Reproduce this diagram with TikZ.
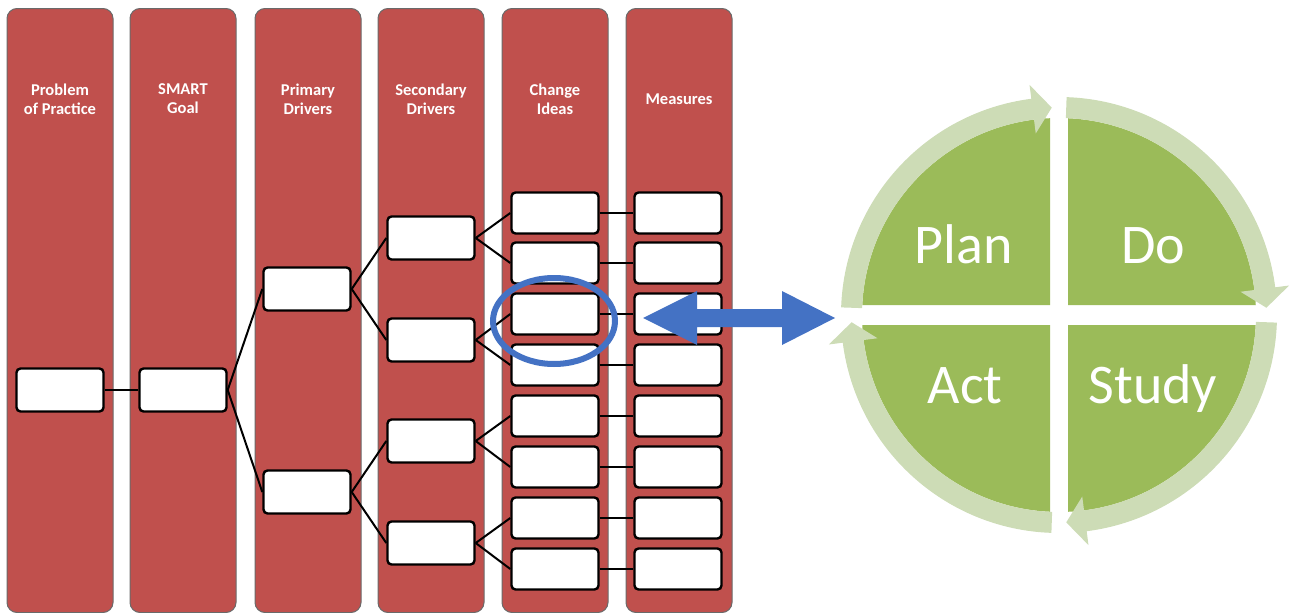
\documentclass[tikz,border=0pt]{standalone}
\usepackage{fontspec}
\setmainfont{Carlito}
\usetikzlibrary{shapes.geometric}
\definecolor{colred}{HTML}{C0504D}
\definecolor{colborder}{HTML}{6A6A6A}
\definecolor{pdcadark}{HTML}{9BBB59}
\definecolor{pdcalight}{HTML}{CDDCB6}
\definecolor{arrowblue}{HTML}{4472C4}
\begin{document}
\begin{tikzpicture}[x=1pt,y=1pt,
  column/.style={draw=colborder, line width=1pt, fill=colred, rounded corners=10pt,
    minimum width=106pt, minimum height=604pt, inner sep=0pt, anchor=north},
  hdr/.style={text=white, font=\bfseries\fontsize{16.5}{19}\selectfont, align=center},
  bigbox/.style={draw=black, line width=2.4pt, fill=white, rounded corners=4pt,
    minimum width=87pt, minimum height=43pt, inner sep=0pt},
  smallbox/.style={bigbox, minimum height=41pt},
  link/.style={draw=black, line width=2pt},
  pdcatext/.style={text=white, font=\fontsize{56}{60}\selectfont, anchor=base, inner sep=0pt}]
\useasboundingbox (0,0) rectangle (1294,-613);

% columns
\node[column] (c1) at (60,-8) {};
\node[column] (c2) at (183,-8) {};
\node[column] (c3) at (308,-8) {};
\node[column] (c4) at (431,-8) {};
\node[column] (c5) at (555,-8) {};
\node[column] (c6) at (679,-8) {};

% headers
\node[hdr] (h1) at (60,-99) {Problem\\of Practice};
\node[hdr] (h2) at (183,-99) {SMART\\Goal};
\node[hdr] (h3) at (308,-99) {Primary\\Drivers};
\node[hdr] (h4) at (431,-99) {Secondary\\Drivers};
\node[hdr] (h5) at (555,-99) {Change\\Ideas};
\node[hdr] (h6) at (679,-99) {Measures};

% boxes
\node[bigbox] (p1) at (60,-390) {};
\node[bigbox] (s1) at (183,-390) {};
\node[bigbox] (pd1) at (307,-289) {};
\node[bigbox] (pd2) at (307,-492) {};
\node[bigbox] (sd1) at (431,-238) {};
\node[bigbox] (sd2) at (431,-340) {};
\node[bigbox] (sd3) at (431,-441) {};
\node[bigbox] (sd4) at (431,-543) {};
\foreach \k/\yy in {1/213,2/263,3/314,4/365,5/416,6/467,7/518,8/569} {
  \node[smallbox] (ci\k) at (555,-\yy) {};
  \node[smallbox] (m\k) at (678,-\yy) {};
}

% connectors
\draw[link] (p1.east) -- (s1.west);
\foreach \a/\b in {s1/pd1, s1/pd2, pd1/sd1, pd1/sd2, pd2/sd3, pd2/sd4,
                   sd1/ci1, sd1/ci2, sd2/ci3, sd2/ci4, sd3/ci5, sd3/ci6, sd4/ci7, sd4/ci8}
  \draw[link] (\a.east) -- (\b.west);
\foreach \k in {1,...,8}
  \draw[link] (ci\k.east) -- (m\k.west);

% highlight ellipse
\node[ellipse, draw=arrowblue, line width=6pt, minimum width=122pt, minimum height=86pt,
  inner sep=0pt] (focus) at (554,-321) {};

% double arrow
\fill[arrowblue] (643,-318) -- (697,-291) -- (697,-309) -- (782,-309) -- (782,-291)
  -- (835,-318) -- (782,-345) -- (782,-327) -- (697,-327) -- (697,-345) -- cycle;

% PDCA cycle
\begin{scope}[shift={(1059,-315)}]
  % quadrants
  \fill[pdcadark] (-9,10) -- (92.62:197) arc[start angle=92.62, end angle=177.09, radius=197] -- cycle;
  \fill[pdcadark] (9,10) -- (87.38:197) arc[start angle=87.38, end angle=2.91, radius=197] -- cycle;
  \fill[pdcadark] (9,-10) -- (-2.91:197) arc[start angle=-2.91, end angle=-87.38, radius=197] -- cycle;
  \fill[pdcadark] (-9,-10) -- (-92.62:197) arc[start angle=-92.62, end angle=-177.09, radius=197] -- cycle;
  % ring segments with arrowheads
  \foreach \as/\ae/\ah in {178/92/97.3, 88/2/7.3, -2/-88/-82.7, -92/-178/-172.7} {
    \fill[pdcalight] (\as:218) arc[start angle=\as, end angle=\ah, radius=218]
      -- (\ah:232) -- (\ae:207.5) -- (\ah:183) -- (\ah:197)
      arc[start angle=\ah, end angle=\as, radius=197] -- cycle;
  }
\end{scope}
\node[pdcatext] (plan) at (964,-263) {Plan};
\node[pdcatext] (do) at (1153,-263) {Do};
\node[pdcatext] (act) at (965,-403) {Act};
\node[pdcatext] (study) at (1153,-403) {Study};
\end{tikzpicture}
\end{document}
